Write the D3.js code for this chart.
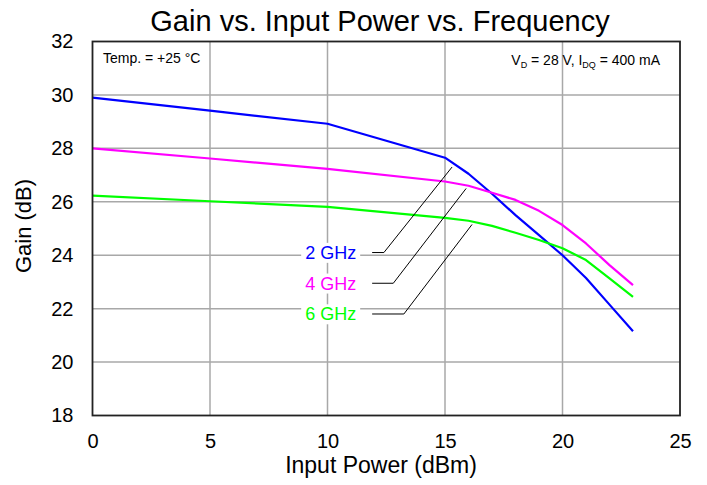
<!DOCTYPE html>
<html>
<head>
<meta charset="utf-8">
<script src="https://cdn.jsdelivr.net/npm/d3@7"></script>
<style>
  body { margin: 0; background: #fff; }
  svg { font-family: "Liberation Sans", Arial, sans-serif; }
</style>
</head>
<body>
<div id="chart"></div>
<script>
// input power (dBm)
var inputPower = [0, 5, 10, 15, 16, 17, 18, 19, 20, 21, 22, 23];
// gain (dB) per frequency
var gain2GHz = [29.9, 29.41, 28.92, 27.65, 27.05, 26.3, 25.5, 24.75, 24.0, 23.15, 22.15, 21.15];
var gain4GHz = [28.0, 27.62, 27.23, 26.76, 26.6, 26.34, 26.07, 25.66, 25.13, 24.44, 23.63, 22.88];
var gain6GHz = [26.23, 26.02, 25.81, 25.4, 25.29, 25.1, 24.84, 24.57, 24.26, 23.82, 23.13, 22.44];
var seriesNames = ['2 GHz', '4 GHz', '6 GHz'];
var xTicks = [0, 5, 10, 15, 20, 25];
var yTicks = [18, 20, 22, 24, 26, 28, 30, 32];
// label position and leader line points, in data units
var labelPos = [[9.05, 24.1], [9.05, 22.95], [9.05, 21.8]];
var leaderPts = [
    [[11.9, 24.1], [12.4, 24.1], [15.3, 27.3]],
    [[11.9, 22.95], [12.8, 22.95], [15.9, 26.5]],
    [[11.9, 21.8], [13.25, 21.8], [16.15, 25.15]]
];

var width = 707, height = 485;
var margin = {top: 41.5, right: 27, bottom: 69.5, left: 92.5};
var colors = ['#0000ff', '#ff00ff', '#00ff00'];
var allGain = [gain2GHz, gain4GHz, gain6GHz];

var svg = d3.select('#chart').append('svg')
    .attr('width', width)
    .attr('height', height);

var x = d3.scaleLinear().domain([0, 25]).range([margin.left, width - margin.right]);
var y = d3.scaleLinear().domain([18, 32]).range([height - margin.bottom, margin.top]);

// grid
svg.append('g')
    .selectAll('line.vgrid')
    .data(xTicks.slice(1, -1))
    .enter().append('line')
    .attr('x1', function (d) { return x(d); })
    .attr('x2', function (d) { return x(d); })
    .attr('y1', y(18))
    .attr('y2', y(32))
    .attr('stroke', '#a8a8a8')
    .attr('stroke-width', 1.5);

svg.append('g')
    .selectAll('line.hgrid')
    .data(yTicks.slice(1, -1))
    .enter().append('line')
    .attr('x1', x(0))
    .attr('x2', x(25))
    .attr('y1', function (d) { return y(d); })
    .attr('y2', function (d) { return y(d); })
    .attr('stroke', '#a8a8a8')
    .attr('stroke-width', 1.5);

// axes (labels only, no tick marks)
var xAxis = svg.append('g')
    .attr('transform', 'translate(0,' + y(18) + ')')
    .call(d3.axisBottom(x).tickValues(xTicks).tickSize(0).tickPadding(18));
xAxis.select('.domain').remove();
xAxis.selectAll('text')
    .attr('font-size', '20px')
    .attr('font-family', '"Liberation Sans", Arial, sans-serif')
    .attr('fill', '#000');

var yAxis = svg.append('g')
    .attr('transform', 'translate(' + x(0) + ',0)')
    .call(d3.axisLeft(y).tickValues(yTicks).tickSize(0).tickPadding(19));
yAxis.select('.domain').remove();
yAxis.selectAll('text')
    .attr('font-size', '20px')
    .attr('font-family', '"Liberation Sans", Arial, sans-serif')
    .attr('fill', '#000');

// series lines
var line = d3.line()
    .x(function (d) { return x(d[0]); })
    .y(function (d) { return y(d[1]); });

allGain.forEach(function (g, i) {
    svg.append('path')
        .datum(d3.zip(inputPower, g))
        .attr('fill', 'none')
        .attr('stroke', colors[i])
        .attr('stroke-width', 2.2)
        .attr('stroke-linejoin', 'round')
        .attr('d', line);
});

// frame
svg.append('rect')
    .attr('x', x(0))
    .attr('y', y(32))
    .attr('width', x(25) - x(0))
    .attr('height', y(18) - y(32))
    .attr('fill', 'none')
    .attr('stroke', '#222')
    .attr('stroke-width', 1.8);

// series labels with leader lines
seriesNames.forEach(function (name, i) {
    var t = svg.append('text')
        .attr('x', x(labelPos[i][0]))
        .attr('y', y(labelPos[i][1]))
        .attr('dy', '0.35em')
        .attr('font-size', '18px')
        .attr('fill', colors[i])
        .text(name);
    // white box behind label so grid is hidden
    var bb = t.node().getBBox();
    svg.insert('rect', function () { return t.node(); })
        .attr('x', bb.x - 4)
        .attr('y', bb.y)
        .attr('width', bb.width + 8)
        .attr('height', bb.height)
        .attr('fill', '#fff');

    svg.append('path')
        .datum(leaderPts[i])
        .attr('fill', 'none')
        .attr('stroke', '#000')
        .attr('stroke-width', 1)
        .attr('d', line);
});

// title
svg.append('text')
    .attr('x', 380)
    .attr('y', 30.5)
    .attr('text-anchor', 'middle')
    .attr('font-size', '29px')
    .text('Gain vs. Input Power vs. Frequency');

// axis titles
svg.append('text')
    .attr('x', 381)
    .attr('y', 473)
    .attr('text-anchor', 'middle')
    .attr('font-size', '23px')
    .text('Input Power (dBm)');

svg.append('text')
    .attr('transform', 'translate(31,226) rotate(-90)')
    .attr('text-anchor', 'middle')
    .attr('font-size', '22px')
    .text('Gain (dB)');

// annotations
svg.append('text')
    .attr('x', 103)
    .attr('y', 63)
    .attr('font-size', '14px')
    .text('Temp. = +25 °C');

var cond = svg.append('text')
    .attr('x', 660)
    .attr('y', 65)
    .attr('text-anchor', 'end')
    .attr('font-size', '14px');
cond.append('tspan').text('V');
cond.append('tspan').attr('font-size', '9px').attr('dy', 3).text('D');
cond.append('tspan').attr('dy', -3).text(' = 28 V, I');
cond.append('tspan').attr('font-size', '9px').attr('dy', 3).text('DQ');
cond.append('tspan').attr('dy', -3).text(' = 400 mA');
</script>
</body>
</html>
